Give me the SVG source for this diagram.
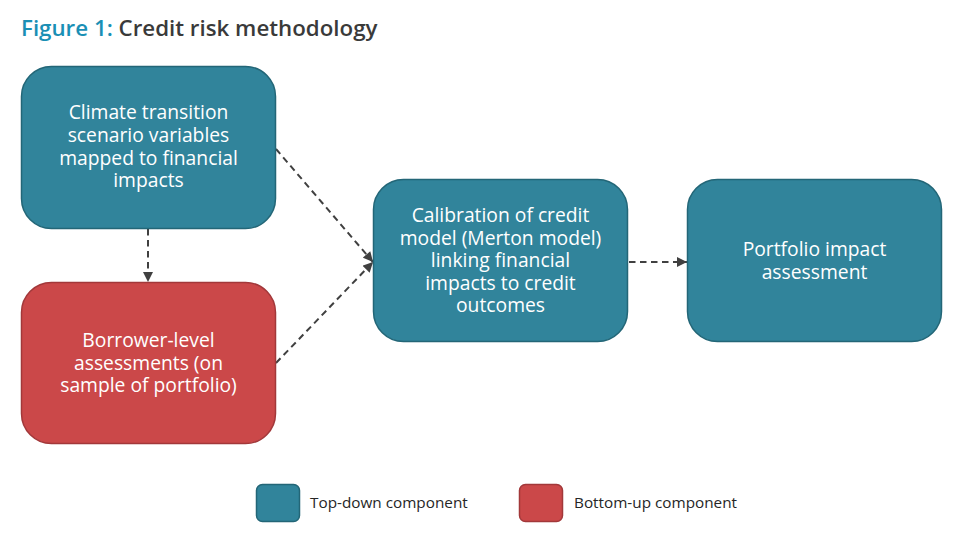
<svg xmlns="http://www.w3.org/2000/svg" width="967" height="546" viewBox="0 0 967 546">
<style>
.bg{fill:#ffffff}
.td{fill:#31849b;stroke:#236677;stroke-width:1.5}
.bu{fill:#cb4849;stroke:#a2383a;stroke-width:1.5}
.lbl{font-family:"Open Sans","Noto Sans",sans-serif;font-size:19.3px;fill:#ffffff;text-anchor:middle}
.leg{font-family:"Open Sans","Noto Sans",sans-serif;font-size:15.3px;fill:#262626}
.title{font-family:"Open Sans","Noto Sans",sans-serif;font-size:22.3px;font-weight:600}
.conn{fill:none;stroke:#404040;stroke-width:2;stroke-dasharray:6.5 4.5}
</style>
<defs>
<marker id="arr" viewBox="0 0 10 10" refX="10" refY="5" markerWidth="11" markerHeight="10" markerUnits="userSpaceOnUse" orient="auto">
<path d="M0,0 L10,5 L0,10 Z" fill="#404040"/>
</marker>
</defs>
<rect class="bg" x="0" y="0" width="967" height="546"/>
<text class="title" x="21" y="36"><tspan fill="#1a8fb5">Figure 1:</tspan><tspan fill="#3a3a3a"> Credit risk methodology</tspan></text>

<g id="connectors">
<line class="conn" x1="148" y1="229" x2="148" y2="282" marker-end="url(#arr)"/>
<line class="conn" x1="276" y1="149" x2="373" y2="262" marker-end="url(#arr)"/>
<line class="conn" x1="276" y1="363" x2="373" y2="262" marker-end="url(#arr)"/>
<line class="conn" x1="629" y1="262" x2="687" y2="262" marker-end="url(#arr)"/>
</g>

<g id="node-climate">
<rect class="td" x="21.5" y="66.5" width="254" height="162" rx="30"/>
<text class="lbl"><tspan x="148.5" y="119">Climate transition</tspan><tspan x="148.5" y="142">scenario variables</tspan><tspan x="148.5" y="164.5">mapped to financial</tspan><tspan x="148.5" y="187">impacts</tspan></text>
</g>

<g id="node-borrower">
<rect class="bu" x="21.5" y="282.5" width="254" height="161" rx="30"/>
<text class="lbl"><tspan x="148.5" y="347">Borrower-level</tspan><tspan x="148.5" y="369.5">assessments (on</tspan><tspan x="148.5" y="392">sample of portfolio)</tspan></text>
</g>

<g id="node-calibration">
<rect class="td" x="373.5" y="179.5" width="254" height="162" rx="30"/>
<text class="lbl"><tspan x="500.5" y="222">Calibration of credit</tspan><tspan x="500.5" y="244.5">model (Merton model)</tspan><tspan x="500.5" y="267">linking financial</tspan><tspan x="500.5" y="289.5">impacts to credit</tspan><tspan x="500.5" y="312">outcomes</tspan></text>
</g>

<g id="node-portfolio">
<rect class="td" x="687.5" y="179.5" width="254" height="162" rx="30"/>
<text class="lbl"><tspan x="814.5" y="256">Portfolio impact</tspan><tspan x="814.5" y="278.5">assessment</tspan></text>
</g>

<g id="legend">
<rect class="td" x="256.5" y="484.5" width="43" height="37" rx="6"/>
<text class="leg" x="310" y="508">Top-down component</text>
<rect class="bu" x="519.5" y="484.5" width="43" height="37" rx="6"/>
<text class="leg" x="574" y="508">Bottom-up component</text>
</g>
</svg>
